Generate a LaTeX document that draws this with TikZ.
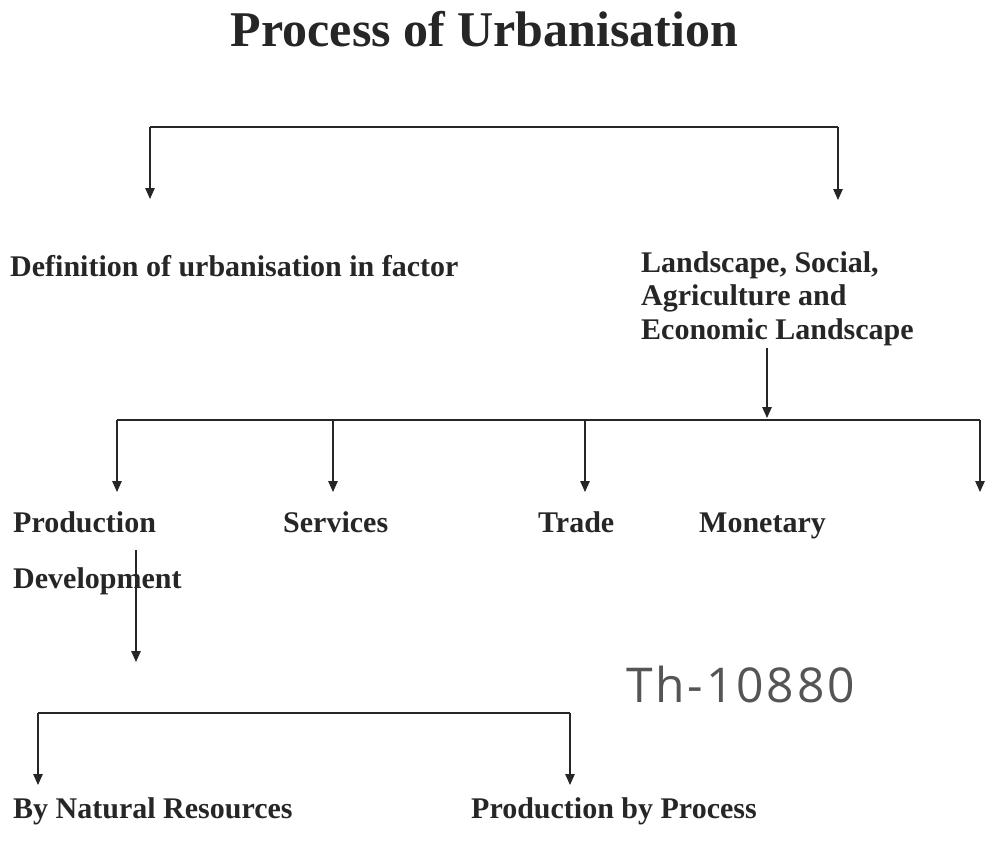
\documentclass[tikz,border=0pt]{standalone}
\usepackage{fontspec}
\setmainfont{Liberation Serif}
\newfontfamily\handfont[LetterSpace=6]{Open Sans}
\usetikzlibrary{arrows.meta}
\definecolor{ink}{HTML}{262626}
\definecolor{pencil}{HTML}{555555}
\begin{document}
\begin{tikzpicture}[x=1pt,y=-1pt,
  label/.style={anchor=base west,inner sep=0pt,text=ink,font=\bfseries\fontsize{30}{33.5}\selectfont},
  heading/.style={anchor=base,inner sep=0pt,text=ink,font=\bfseries\fontsize{50}{60}\selectfont},
  link/.style={draw=ink,line width=1.3pt},
  drop/.style={link,-{Triangle[width=9.5pt,length=11pt]}}]
\useasboundingbox (0,0) rectangle (988,854);

% title
\node[heading] (title) at (484.5,46) {Process of Urbanisation};

% first level
\node[label] (def) at (10,276) {Definition of urbanisation in factor};
\node[label,align=left,anchor=north west] (land) at (641,251)
  {Landscape, Social,\\Agriculture and\\Economic Landscape};

\coordinate (topL) at (150,127);
\coordinate (topR) at (838,127);
\coordinate (defTip) at (150,199);
\coordinate (landTip) at (838,200);
\draw[link] (defTip |- topL) -- (topR);
\draw[drop] (topL) -- (defTip);
\draw[drop] (topR) -- (landTip);

% second level
\coordinate (landStem) at (767,348);
\coordinate (barTip) at (767,418);
\coordinate (barL) at (117,420);
\coordinate (barR) at (980,420);
\coordinate (prodTip) at (117,492);
\coordinate (servTip) at (333,492);
\coordinate (tradeTip) at (585,492);
\coordinate (lastTip) at (980,492);
\draw[drop] (landStem) -- (barTip);
\draw[link] (barL) -- (barR);
\draw[drop] (barL) -- (prodTip);
\draw[drop] (servTip |- barL) -- (servTip);
\draw[drop] (tradeTip |- barL) -- (tradeTip);
\draw[drop] (barR) -- (lastTip);

\node[label] (prod) at (13,532) {Production};
\node[label] (serv) at (283,532) {Services};
\node[label] (trade) at (538,532) {Trade};
\node[label] (money) at (699,532) {Monetary};
\node[label] (dev) at (13,588) {Development};

% third level
\coordinate (devStem) at (136,550);
\coordinate (devTip) at (136,662);
\coordinate (lowL) at (38,713);
\coordinate (lowR) at (570,713);
\coordinate (natTip) at (38,785);
\coordinate (procTip) at (570,785);
\draw[drop] (devStem) -- (devTip);
\draw[link] (lowL) -- (lowR);
\draw[drop] (lowL) -- (natTip);
\draw[drop] (lowR) -- (procTip);

\node[label] (nat) at (13,818) {By Natural Resources};
\node[label] (proc) at (471,818) {Production by Process};

% shelf mark written by hand
\node[anchor=base west,inner sep=0pt,text=pencil,font=\handfont\fontsize{48}{56}\selectfont] (mark) at (626,702) {Th-10880};
\end{tikzpicture}
\end{document}
